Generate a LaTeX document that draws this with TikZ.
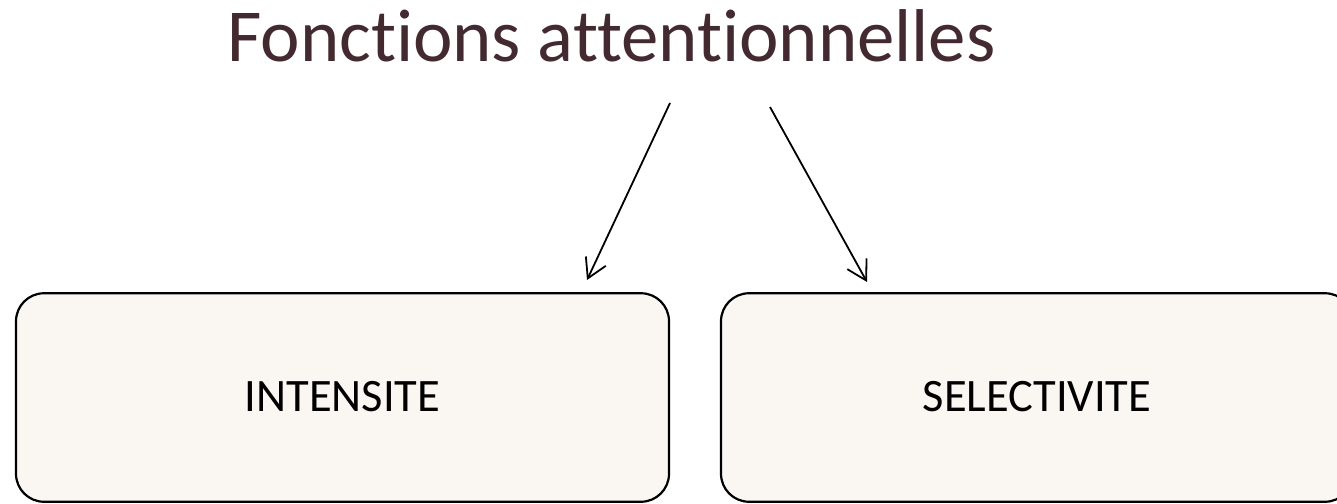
\documentclass[tikz,border=0pt]{standalone}
\usepackage{fontspec}
\setmainfont{Carlito}[RawFeature={-liga;-dlig;-clig}]
\usetikzlibrary{arrows.meta}
\definecolor{titlecol}{HTML}{432A30}
\definecolor{boxfill}{HTML}{FAF7F3}
\tikzset{
  roundbox/.style={draw=black, line width=2.2pt, fill=boxfill, rounded corners=28pt,
    inner sep=0pt, font=\fontsize{46.5}{52}\selectfont},
  conn/.style={line width=1.8pt, -{Straight Barb[length=19pt,width=22pt,line width=1.8pt]}}
}
\begin{document}
\begin{tikzpicture}[x=1pt,y=-1pt]
\clip (0,0) rectangle (1337,503);
\fill[white] (0,0) rectangle (1337,503);
\node[anchor=base, inner sep=0pt, text=titlecol, font=\fontsize{74.8}{82}\selectfont] (title) at (611.5,61.5) {Fonctions attentionnelles};
\node[roundbox, minimum width=653pt, minimum height=208.5pt, text depth=1.5pt] (intens) at (342.5,397.5) {INTENSITE};
\node[roundbox, minimum width=632pt, minimum height=208.5pt, text depth=1.5pt] (select) at (1037,397.5) {SELECTIVITE};
\coordinate (s1) at (670,103);
\coordinate (e1) at (587,280);
\coordinate (s2) at (770,107);
\coordinate (e2) at (867,282);
\draw[conn] (s1) -- (e1);
\draw[conn] (s2) -- (e2);
\end{tikzpicture}
\end{document}
